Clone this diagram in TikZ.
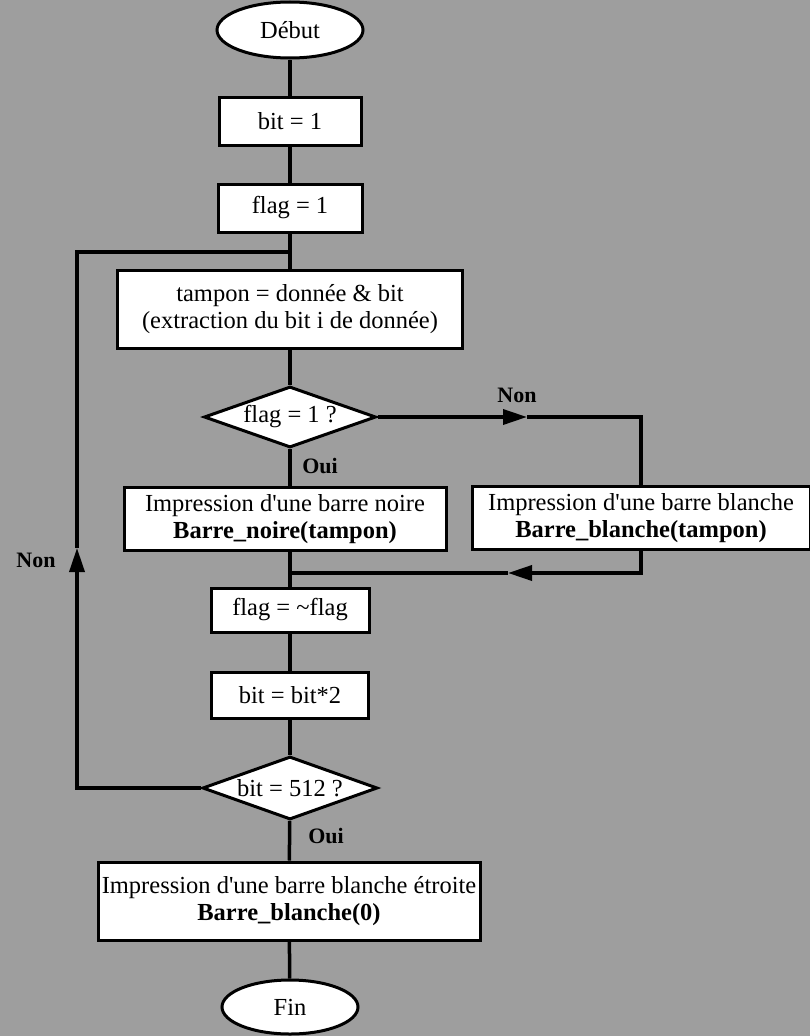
\documentclass[tikz,border=0pt]{standalone}
\usepackage{fontspec}
\setmainfont{Liberation Serif}
\usetikzlibrary{arrows.meta, positioning, shapes.geometric}
\definecolor{fond}{RGB}{158,158,158}

\tikzset{
  boite/.style={draw, fill=white, line width=3pt, inner sep=0pt, align=center},
  ovale/.style={boite, ellipse},
  test/.style={boite, diamond, aspect=2.8},
  lien/.style={line width=3.5pt},
  fleche/.style={lien, -{Triangle[length=24pt, width=15pt]}},
  etiq/.style={font=\fontsize{22}{26}\selectfont\bfseries}
}

\begin{document}
\begin{tikzpicture}[x=1pt, y=-1pt, font=\fontsize{24.5}{27}\selectfont]
  \useasboundingbox (0,0) rectangle (810,1036);
  \fill[fond] (0,0) rectangle (810,1036);

  % colonne principale
  \node[ovale, minimum width=146pt, minimum height=56pt] (debut) at (290,30) {Début};
  \node[boite, minimum width=142pt, minimum height=48pt] (bitun) at (290,121) {bit = 1};
  \node[boite, minimum width=144pt, minimum height=48pt] (flagun) at (290,208) {flag = 1};
  \node[boite, minimum width=345pt, minimum height=78pt] (tampon) at (290,309)
    {tampon = donnée \& bit\\(extraction du bit i de donnée)};
  \node[test, minimum width=172pt, minimum height=61pt] (testflag) at (290,417) {flag = 1 ?};
  \node[boite, minimum width=322pt, minimum height=63pt] (noire) at (285,519)
    {Impression d\textquotesingle une barre noire\\\textbf{Barre\_noire(tampon)}};
  \node[boite, minimum width=338pt, minimum height=63pt] (blanche) at (641,518)
    {Impression d\textquotesingle une barre blanche\\\textbf{Barre\_blanche(tampon)}};
  \node[boite, minimum width=158pt, minimum height=44pt] (flagnot) at (290,610) {flag = \textasciitilde flag};
  \node[boite, minimum width=157pt, minimum height=46pt] (bitfois) at (290,695) {bit = bit*2};
  \node[test, minimum width=175pt, minimum height=63pt] (testbit) at (290,788) {bit = 512 ?};
  \node[boite, minimum width=382pt, minimum height=78pt] (finbarre) at (289,901)
    {Impression d\textquotesingle une barre blanche étroite\\\textbf{Barre\_blanche(0)}};
  \node[ovale, minimum width=136pt, minimum height=54pt] (fin) at (290,1007) {Fin};

  % points de passage
  \coordinate (retour) at (290,252);
  \coordinate (coin) at (77,252);
  \coordinate (flecheg) at (77,548);
  \coordinate (flecheh) at (527,417);
  \coordinate (flecheb) at (508,573);
  \coordinate (jonction) at (290,573);

  % liaisons
  \draw[lien] (debut) -- (bitun);
  \draw[lien] (bitun) -- (flagun);
  \draw[lien] (flagun) -- (tampon);
  \draw[lien] (tampon) -- (testflag);
  \draw[lien] (testflag.south) -- (testflag.south |- noire.north);
  \draw[lien] (testflag.south |- noire.south) -- (flagnot);
  \draw[lien] (flagnot) -- (bitfois);
  \draw[lien] (bitfois) -- (testbit);
  \draw[lien] (testbit) -- (finbarre);
  \draw[lien] (finbarre) -- (fin);

  % branche Non
  \draw[fleche] (testflag.east) -- (flecheh);
  \draw[lien] (flecheh) -| (blanche.north);
  \draw[fleche] (blanche.south) |- (flecheb);
  \draw[lien] (flecheb) -- (jonction);

  % boucle
  \draw[fleche] (testbit.west) -| (flecheg);
  \draw[lien] (flecheg) -- (coin) -- (retour);

  % etiquettes
  \node[etiq] (non1) at (517,395) {Non};
  \node[etiq] (oui1) at (320,466) {Oui};
  \node[etiq] (non2) at (36,560) {Non};
  \node[etiq] (oui2) at (326,836) {Oui};
\end{tikzpicture}
\end{document}
